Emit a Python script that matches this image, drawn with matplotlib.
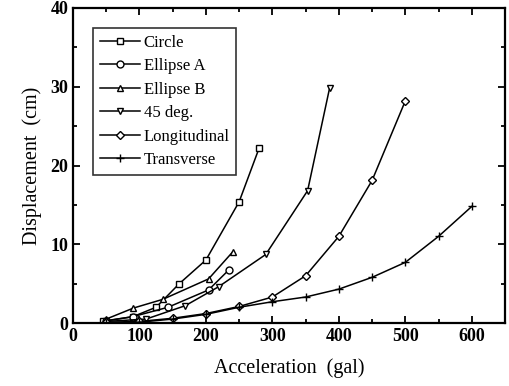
import matplotlib.pyplot as plt
from matplotlib.ticker import MultipleLocator

plt.rcParams['font.family'] = ['Liberation Serif', 'DejaVu Serif']

# series (acceleration in gal, displacement in cm)
circle_x = [45, 90, 125, 160, 200, 250, 280]
circle_y = [0.2, 0.8, 2.0, 5.0, 8.0, 15.4, 22.2]

ellipse_a_x = [50, 90, 143, 204, 234]
ellipse_a_y = [0.3, 0.8, 2.0, 4.2, 6.7]

ellipse_b_x = [50, 91, 135, 204, 240]
ellipse_b_y = [0.5, 1.9, 3.0, 5.6, 9.0]

deg45_x = [50, 110, 169, 219, 290, 353, 386]
deg45_y = [0.2, 0.5, 2.2, 4.6, 8.7, 16.8, 29.8]

long_x = [50, 100, 150, 200, 250, 300, 350, 400, 450, 500]
long_y = [0.1, 0.2, 0.6, 1.2, 2.1, 3.3, 6.0, 11.0, 18.1, 28.2]

trans_x = [50, 100, 150, 200, 250, 300, 350, 400, 450, 500, 550, 600]
trans_y = [0.0, 0.1, 0.5, 1.1, 2.0, 2.7, 3.3, 4.3, 5.8, 7.7, 11.0, 14.8]

fig = plt.figure(figsize=(5.09, 3.86), dpi=100)
ax = fig.add_axes([73/509, 1 - 323/386, 432/509, 315/386])

mk = dict(color='black', lw=1.1, markersize=5, markerfacecolor='white',
          markeredgecolor='black', markeredgewidth=1.0)
ax.plot(circle_x, circle_y, marker='s', label='Circle', **mk)
ax.plot(ellipse_a_x, ellipse_a_y, marker='o', label='Ellipse A', **mk)
ax.plot(ellipse_b_x, ellipse_b_y, marker='^', label='Ellipse B', **mk)
ax.plot(deg45_x, deg45_y, marker='v', label='45 deg.', **mk)
ax.plot(long_x, long_y, marker='D', label='Longitudinal',
        **{**mk, 'markersize': 4.5})
ax.plot(trans_x, trans_y, marker='+', label='Transverse',
        **{**mk, 'markersize': 6})

ax.set_xlim(0, 650)
ax.set_ylim(0, 40)
ax.xaxis.set_major_locator(MultipleLocator(100))
ax.xaxis.set_minor_locator(MultipleLocator(50))
ax.yaxis.set_major_locator(MultipleLocator(10))
ax.yaxis.set_minor_locator(MultipleLocator(5))
ax.tick_params(which='both', direction='in', top=True, right=True,
               labelsize=13, width=1.3)
ax.tick_params(which='major', length=5)
ax.tick_params(which='minor', length=3)
for lab in ax.get_xticklabels() + ax.get_yticklabels():
    lab.set_fontweight('bold')
for s in ax.spines.values():
    s.set_linewidth(1.6)

ax.set_xlabel('Acceleration  (gal)', fontsize=14.5, labelpad=10)
ax.set_ylabel('Displacement  (cm)', fontsize=14.5, labelpad=6)

leg = ax.legend(loc='upper left', bbox_to_anchor=(0.046, 0.937), fontsize=12,
                frameon=True, fancybox=False, edgecolor='black',
                handlelength=2.4, handletextpad=0.25, labelspacing=0.45,
                borderpad=0.4, borderaxespad=0)
leg.get_frame().set_linewidth(1.2)

fig.savefig('out.png', dpi=100)
